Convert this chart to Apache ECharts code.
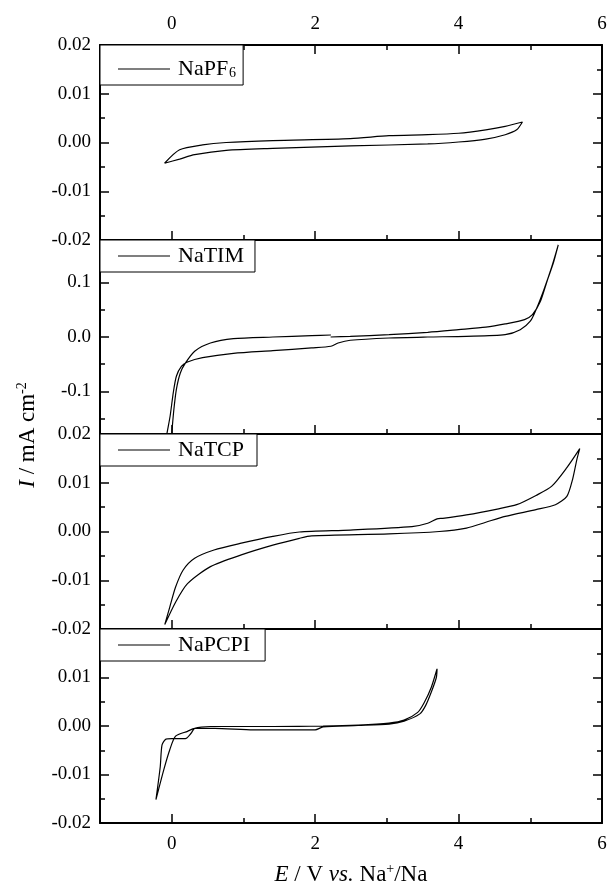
<!DOCTYPE html>
<html><head><meta charset="utf-8">
<script src="https://cdn.jsdelivr.net/npm/echarts@6/dist/echarts.min.js"></script>
<style>html,body{margin:0;padding:0;background:#fff}#c{width:610px;height:888px}</style>
</head><body><div id="c"></div>
<script>
// ---- tick values ----
const xMajorTicks = [0, 2, 4, 6];
const xMinorTicks = [1, 3, 5];
const smallMajorTicks = [-0.02, -0.01, 0, 0.01, 0.02];
const smallMinorTicks = [-0.015, -0.005, 0.005, 0.015];
const timMajorTicks = [-0.1, 0, 0.1];
const timMinorTicks = [-0.15, -0.05, 0.05, 0.15];
const panel1Labels = [-0.02, -0.01, 0, 0.01, 0.02];
const panel2Labels = [-0.1, 0, 0.1];
const panel3Labels = [-0.02, -0.01, 0, 0.01, 0.02];
const panel4Labels = [-0.02, -0.01, 0, 0.01];
const seriesNames = ['NaPF6', 'NaTIM', 'NaTCP', 'NaPCPI'];

// ---- NaPF6 ----
const napf6E = [-0.10, 0.11, 0.43, 0.76, 1.41, 2.49, 3.03, 3.57, 4.00, 4.38, 4.65, 4.89,
                4.81, 4.65, 4.38, 4.00, 3.57, 2.49, 1.41, 0.76, 0.32, 0.11, -0.10];
const napf6I = [-0.00425, -0.0015, -0.0005, 0.0000, 0.0004, 0.0008, 0.0014, 0.0016, 0.0019, 0.0026, 0.0033, 0.0042,
                0.0026, 0.0016, 0.0007, 0.0001, -0.0003, -0.0007, -0.0012, -0.0016, -0.0025, -0.0034, -0.00425];

// ---- NaTIM ----
const natimE = [2.216, 2.49, 3.03, 3.57, 4.00, 4.38, 4.65, 4.92, 5.03, 5.14, 5.24, 5.32, 5.39,
                5.30, 5.19, 5.08, 5.00, 4.86, 4.65, 4.11, 3.57, 3.03, 2.49, 2.32, 2.22, 1.95, 1.41, 0.86, 0.43, 0.22, 0.135, 0.065, 0.022, -0.022, -0.065, -0.086,
                -0.01, 0.005, 0.03, 0.065, 0.12, 0.19, 0.32, 0.54, 0.86, 1.41, 1.95, 2.22];
const natimI = [0.0, 0.0012, 0.0043, 0.0085, 0.0134, 0.018, 0.024, 0.032, 0.041, 0.065, 0.105, 0.135, 0.169,
                0.129, 0.087, 0.05, 0.029, 0.0134, 0.0043, 0.0012, 0.0, -0.0018, -0.006, -0.011, -0.017, -0.020, -0.025, -0.030, -0.038, -0.046, -0.054, -0.072, -0.102, -0.145, -0.176, -0.194,
                -0.194, -0.17, -0.133, -0.096, -0.066, -0.048, -0.026, -0.011, -0.003, 0.0, 0.0024, 0.0037];

// ---- NaTCP ----
const natcpE = [-0.097, -0.027, 0.054, 0.16, 0.32, 0.59, 0.97, 1.41, 1.78, 2.49, 3.35, 3.57, 3.70, 3.78, 4.11, 4.54, 4.81, 5.08, 5.30, 5.51, 5.69,
                5.65, 5.59, 5.51, 5.35, 5.08, 4.65, 4.38, 4.11, 3.73, 3.03, 1.95, 1.78, 1.41, 0.97, 0.54, 0.22, 0.054, -0.097];
const natcpI = [-0.0191, -0.0155, -0.0114, -0.0079, -0.0055, -0.0038, -0.0024, -0.0010, -0.0001, 0.0003, 0.0010, 0.0017, 0.0026, 0.0027, 0.0034, 0.0046, 0.0055, 0.0074, 0.0093, 0.0131, 0.0170,
                0.0148, 0.0107, 0.0072, 0.0055, 0.0045, 0.0031, 0.0019, 0.0007, 0.0000, -0.0005, -0.0009, -0.0014, -0.0028, -0.0048, -0.0072, -0.0107, -0.0145, -0.0191];

// ---- NaPCPI ----
const napcpiE = [-0.22, -0.16, -0.135, -0.08, 0.0, 0.19, 0.27, 0.32, 0.54, 1.41, 2.11, 2.60, 3.03, 3.24, 3.43, 3.52, 3.62, 3.70,
                 3.69, 3.62, 3.54, 3.46, 3.24, 3.03, 2.60, 2.11, 2.00, 1.14, 0.60, 0.32, 0.22, 0.054, -0.027, -0.11, -0.22];
const napcpiI = [-0.0152, -0.0084, -0.0039, -0.0027, -0.0026, -0.0026, -0.0015, -0.0005, -0.0001, -0.0001, 0.0000, 0.0002, 0.0006, 0.0012, 0.0028, 0.0048, 0.0080, 0.0118,
                 0.0100, 0.0070, 0.0042, 0.0025, 0.0010, 0.0004, 0.0001, -0.0002, -0.0008, -0.0008, -0.0005, -0.0005, -0.0011, -0.0021, -0.0049, -0.0090, -0.0152];

const FONT = 'Liberation Serif';
const panels = [
  {name: seriesNames[0], E: napf6E, I: napf6I, min: -0.02, max: 0.02, major: smallMajorTicks, minor: smallMinorTicks, labels: panel1Labels, dec: 2},
  {name: seriesNames[1], E: natimE, I: natimI, min: -0.178, max: 0.178, major: timMajorTicks, minor: timMinorTicks, labels: panel2Labels, dec: 1},
  {name: seriesNames[2], E: natcpE, I: natcpI, min: -0.02, max: 0.02, major: smallMajorTicks, minor: smallMinorTicks, labels: panel3Labels, dec: 2},
  {name: seriesNames[3], E: napcpiE, I: napcpiI, min: -0.02, max: 0.02, major: smallMajorTicks, minor: smallMinorTicks, labels: panel4Labels, dec: 2}
];
const gridTops = [45, 240, 434, 629];
const gridHeights = [195, 194, 195, 194];
const legendPads = [[6, 7, 5, 18], [5, 11, 5, 18], [5, 13, 5, 18], [5, 15, 5, 18]];

const lineC = '#000';
const grids = [], xAxes = [], yAxes = [], series = [], legends = [];
const axLine = {show: true, onZero: false, lineStyle: {color: lineC, width: 2}};
const noLine = {show: false, onZero: false};

panels.forEach((p, g) => {
  grids.push({left: 100, right: 8, top: gridTops[g], height: gridHeights[g]});
});
// bottom major x axes 0..3
panels.forEach((p, g) => {
  xAxes.push({type: 'value', gridIndex: g, position: 'bottom', min: -1, max: 6,
    axisLine: axLine, splitLine: {show: false},
    axisTick: {show: true, inside: true, length: 9, customValues: xMajorTicks, lineStyle: {color: lineC, width: 1.5}},
    axisLabel: {show: g === 3, customValues: xMajorTicks, margin: 12, color: '#000', fontFamily: FONT, fontSize: 19}
  });
});
// bottom minor x axes 4..7
panels.forEach((p, g) => {
  xAxes.push({type: 'value', gridIndex: g, position: 'bottom', min: -1, max: 6,
    axisLine: noLine, splitLine: {show: false}, axisLabel: {show: false},
    axisTick: {show: true, inside: true, length: 5, customValues: xMinorTicks, lineStyle: {color: lineC, width: 1.5}}
  });
});
// top axes for first panel 8, 9
xAxes.push({type: 'value', gridIndex: 0, position: 'top', min: -1, max: 6,
  axisLine: axLine, splitLine: {show: false},
  axisTick: {show: true, inside: true, length: 9, customValues: xMajorTicks, lineStyle: {color: lineC, width: 1.5}},
  axisLabel: {show: true, customValues: xMajorTicks, margin: 11, color: '#000', fontFamily: FONT, fontSize: 19}
});
xAxes.push({type: 'value', gridIndex: 0, position: 'top', min: -1, max: 6,
  axisLine: noLine, splitLine: {show: false}, axisLabel: {show: false},
  axisTick: {show: true, inside: true, length: 5, customValues: xMinorTicks, lineStyle: {color: lineC, width: 1.5}}
});
// y axes: left major 0..3
panels.forEach((p, g) => {
  yAxes.push({type: 'value', gridIndex: g, position: 'left', min: p.min, max: p.max,
    axisLine: axLine, splitLine: {show: false},
    axisTick: {show: true, inside: true, length: 9, customValues: p.major, lineStyle: {color: lineC, width: 1.5}},
    axisLabel: {show: true, customValues: p.labels, margin: 9, color: '#000', fontFamily: FONT, fontSize: 19,
      formatter: v => Number(v).toFixed(p.dec)}
  });
});
// left minor 4..7
panels.forEach((p, g) => {
  yAxes.push({type: 'value', gridIndex: g, position: 'left', min: p.min, max: p.max,
    axisLine: noLine, splitLine: {show: false}, axisLabel: {show: false},
    axisTick: {show: true, inside: true, length: 5, customValues: p.minor, lineStyle: {color: lineC, width: 1.5}}
  });
});
// right major 8..11
panels.forEach((p, g) => {
  yAxes.push({type: 'value', gridIndex: g, position: 'right', min: p.min, max: p.max,
    axisLine: axLine, splitLine: {show: false}, axisLabel: {show: false},
    axisTick: {show: true, inside: true, length: 9, customValues: p.major, lineStyle: {color: lineC, width: 1.5}}
  });
});
// right minor 12..15
panels.forEach((p, g) => {
  yAxes.push({type: 'value', gridIndex: g, position: 'right', min: p.min, max: p.max,
    axisLine: noLine, splitLine: {show: false}, axisLabel: {show: false},
    axisTick: {show: true, inside: true, length: 5, customValues: p.minor, lineStyle: {color: lineC, width: 1.5}}
  });
});

panels.forEach((p, g) => {
  series.push({
    name: p.name, type: 'line', xAxisIndex: g, yAxisIndex: g,
    data: p.E.map((e, i) => [e, p.I[i]]),
    symbol: 'none', smooth: 0.25, clip: true,
    lineStyle: {color: '#000', width: 1.2}, itemStyle: {color: '#000'},
    emphasis: {disabled: true}
  });
  legends.push({
    data: [p.name], left: 100, top: gridTops[g], orient: 'horizontal',
    selectedMode: false, borderColor: '#000', borderWidth: 1, borderRadius: 0,
    backgroundColor: '#fff',
    padding: legendPads[g],
    icon: 'rect', itemWidth: 52, itemHeight: 1.2,
    itemStyle: {color: '#000', borderWidth: 0},
    formatter: name => name === 'NaPF6' ? '{a|NaPF}{s|6}' : '{a|' + name + '}',
    textStyle: {color: '#000', fontFamily: FONT, fontSize: 22,
      rich: {
        a: {fontFamily: FONT, fontSize: 22, lineHeight: 22, padding: [0, 0, 0, 3], color: '#000'},
        s: {fontFamily: FONT, fontSize: 14, lineHeight: 14, padding: [15, 0, 0, 1], verticalAlign: 'bottom', color: '#000'}
      }}
  });
});

const titleRich = {
  i: {fontFamily: FONT, fontSize: 23, fontStyle: 'italic', lineHeight: 24, fill: '#000', verticalAlign: 'bottom'},
  n: {fontFamily: FONT, fontSize: 23, lineHeight: 24, fill: '#000', verticalAlign: 'bottom'},
  sup: {fontFamily: FONT, fontSize: 14, lineHeight: 14, padding: [0, 0, 10, 0], fill: '#000', verticalAlign: 'bottom'}
};

const chart = echarts.init(document.getElementById('c'), null, {renderer: 'canvas'});
chart.setOption({
  animation: false,
  backgroundColor: '#fff',
  grid: grids, xAxis: xAxes, yAxis: yAxes, series: series, legend: legends,
  graphic: [
    {type: 'text', x: 27, y: 435, rotation: Math.PI / 2,
      style: {text: '{i|I}{n| / mA cm}{sup|-2}', align: 'center', verticalAlign: 'middle', rich: titleRich}},
    {type: 'text', x: 351, y: 874,
      style: {text: '{i|E}{n| / V }{i|vs.}{n| Na}{sup|+}{n|/Na}', align: 'center', verticalAlign: 'middle', rich: titleRich}}
  ]
});
</script></body></html>
